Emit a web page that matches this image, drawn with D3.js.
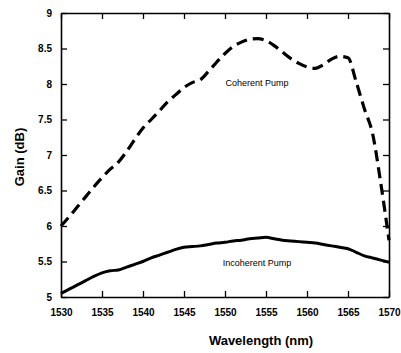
<!DOCTYPE html>
<html><head><meta charset="utf-8">
<script src="https://cdn.jsdelivr.net/npm/d3@7"></script>
<style>body{margin:0;background:#fff}svg{display:block}text{font-family:Arial,"Liberation Sans",sans-serif}</style>
</head><body>
<script>
const wavelengths = [1530,1531,1532,1533,1534,1535,1536,1537,1538,1539,1540,1541,1542,1543,1544,1545,1546,1547,1548,1549,1550,1551,1552,1553,1554,1555,1556,1557,1558,1559,1560,1561,1562,1563,1564,1565,1566,1567,1568,1569,1570];
const coherent = [6.0,6.13,6.27,6.41,6.55,6.68,6.8,6.9,7.05,7.22,7.38,7.5,7.62,7.75,7.85,7.95,8.02,8.06,8.18,8.31,8.43,8.53,8.59,8.63,8.64,8.61,8.54,8.45,8.36,8.29,8.24,8.22,8.27,8.35,8.39,8.37,8.03,7.65,7.3,6.6,5.8];
const incoherent = [5.05,5.11,5.17,5.23,5.29,5.34,5.37,5.38,5.42,5.46,5.5,5.55,5.59,5.63,5.67,5.7,5.71,5.72,5.74,5.76,5.77,5.79,5.8,5.82,5.83,5.84,5.82,5.8,5.79,5.78,5.77,5.76,5.74,5.72,5.7,5.68,5.63,5.58,5.55,5.52,5.49];
const xTicks = [1530,1535,1540,1545,1550,1555,1560,1565,1570];
const yTicks = [5,5.5,6,6.5,7,7.5,8,8.5,9];
const xLabel = "Wavelength (nm)";
const yLabel = "Gain (dB)";
const coherentLabel = "Coherent Pump";
const incoherentLabel = "Incoherent Pump";

const W = 401, H = 353;
const m = {left:61, right:12, top:13, bottom:56};
const svg = d3.select("body").append("svg").attr("width",W).attr("height",H);
const x = d3.scaleLinear().domain([1530,1570]).range([m.left, W-m.right]);
const y = d3.scaleLinear().domain([5,9]).range([H-m.bottom, m.top]);

const fmt = d => d3.format("")(d);
const gB = svg.append("g").attr("transform",`translate(0,${H-m.bottom})`)
  .call(d3.axisBottom(x).tickValues(xTicks).tickSizeInner(-6).tickSizeOuter(0).tickPadding(12).tickFormat(fmt));
const gT = svg.append("g").attr("transform",`translate(0,${m.top})`)
  .call(d3.axisTop(x).tickValues(xTicks).tickSizeInner(-6).tickSizeOuter(0).tickFormat(""));
const gL = svg.append("g").attr("transform",`translate(${m.left},0)`)
  .call(d3.axisLeft(y).tickValues(yTicks).tickSizeInner(-6).tickSizeOuter(0).tickPadding(9).tickFormat(fmt));
const gR = svg.append("g").attr("transform",`translate(${W-m.right},0)`)
  .call(d3.axisRight(y).tickValues(yTicks).tickSizeInner(-6).tickSizeOuter(0).tickFormat(""));
[gB,gT,gL,gR].forEach(g=>{
  g.select(".domain").attr("stroke","#000").attr("stroke-width",1.6);
  g.selectAll(".tick line").attr("stroke","#000").attr("stroke-width",1.3);
  g.selectAll(".tick text").attr("fill","#000").attr("font-size",10).attr("font-weight","bold");
});
gB.selectAll(".tick text").attr("dy","0.71em");

const line = d3.line().x((d,i)=>x(wavelengths[i])).y(d=>y(d)).curve(d3.curveMonotoneX);
svg.append("path").datum(coherent).attr("d",line).attr("fill","none")
  .attr("stroke","#000").attr("stroke-width",3.2).attr("stroke-dasharray","11,6");
svg.append("path").datum(incoherent).attr("d",line).attr("fill","none")
  .attr("stroke","#000").attr("stroke-width",3);

svg.append("text").attr("x",257).attr("y",86).attr("text-anchor","middle")
  .attr("font-size",9).text(coherentLabel);
svg.append("text").attr("x",257).attr("y",266).attr("text-anchor","middle")
  .attr("font-size",9).text(incoherentLabel);

svg.append("text").attr("x",261).attr("y",345).attr("text-anchor","middle")
  .attr("font-size",13).attr("font-weight","bold").text(xLabel);
svg.append("text").attr("transform","translate(24,157) rotate(-90)").attr("text-anchor","middle")
  .attr("font-size",13).attr("font-weight","bold").text(yLabel);
</script>
</body></html>
